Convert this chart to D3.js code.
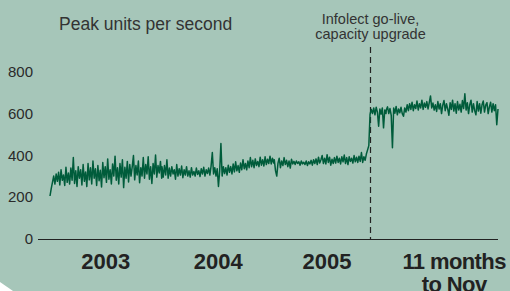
<!DOCTYPE html>
<html><head><meta charset="utf-8">
<script src="https://cdn.jsdelivr.net/npm/d3@7"></script>
<style>
html,body{margin:0;padding:0;background:#a6c6b9;}
svg{display:block;font-family:"Liberation Sans",Arial,Helvetica,sans-serif;}
</style></head>
<body>
<svg id="chart" width="510" height="291"></svg>
<script>
// ---- data (one reading every 4 days) ----
const stepDays = 4;
const values2003 = [205,240,270,300,262,310,275,318,258,330,280,305,255,342,270,315,262,338,280,388,265,325,250,345,290,330,258,355,275,320,250,360,282,340,262,372,290,335,255,350,278,328,248,365,292,345,270,382,285,330,262,358,300,395,280,340,262,360,295,378,245,342,290,370,272,355,300,345,398,282,350,305,372,268,340,300,388,290,355,310,392,285,345,265,360,310,400,295,350,315,370,290];
const values2004 = [345,295,350,305,378,290,338,300,345,310,330,285,355,300,335,305,348,292,330,305,345,300,325,295,340,305,322,300,338,308,325,298,335,310,342,300,330,312,338,305,348,412,310,340,300,335,250,325,455,300,345,312,340,305,352,318,345,310,358,320,368,325,350,318,362,330,378,335,360,330,372,340,388,345,375,340,382,350,370,345,390,352,378,348,392,355,380,360,395,358,385,362];
const values2005 = [378,325,300,362,385,340,372,350,388,355,375,345,372,338,380,358,370,355,372,360,368,352,372,358,366,355,372,350,368,358,375,352,378,360,382,355,390,362,378,398,360,385,358,402,365,390,352,380,360,388,362,395,365,385,358,392,368,400,360,388,355,392,370,385,362,398,368,390,365,395,370,412,365,392,375,405,425,445,595,618,598,625,592,628,605,538,620,595,625,530,615,598];
const values2006 = [615,630,598,622,590,435,625,600,632,592,620,602,628,598,585,625,605,640,612,645,618,652,612,640,622,658,615,645,625,662,618,648,628,655,620,650,682,625,648,615,640,608,655,620,645,598,638,660,612,645,620,590,650,618,662,610,645,600,655,615,642,605,660,622,692,615,650,598,640,662,605,645,612,592,655,610,645,600,640,658,605,638,650,598,630,652,605,645,612,640,545,620];
const seriesByYear = [[2003, values2003],[2004, values2004],[2005, values2005],[2006, values2006]];
const yTicks = [0,200,400,600,800];
const periodLabels = [["2003"],["2004"],["2005"],["11 months","to Nov"]];
const periodCentres = ["2003-07-02","2004-07-02","2005-06-22","2006-08-10"];
const goLiveDate = "2005-11-09";
const title = "Peak units per second";
const annotation = ["Infolect go-live,","capacity upgrade"];

// ---- build ----
const parse = d3.utcParse("%Y-%m-%d");
const points = [];
seriesByYear.forEach(([yr, vals]) => {
  const start = Date.UTC(yr,0,1);
  vals.forEach((v,i) => points.push({date:new Date(start + i*stepDays*86400000), value:v}));
});

const svg = d3.select("#chart");
const x = d3.scaleUtc().domain([parse("2003-01-01"), parse("2006-12-31")]).range([50,498]);
const y = d3.scaleLinear().domain([0,800]).range([239,71.2]);

// corner triangle
svg.append("path").attr("d","M0,282L13,291L0,291Z").attr("fill","#ffffff");

// title
svg.append("text").attr("x",59).attr("y",30).attr("font-size",17.5).attr("fill","#333")
  .text(title);

// y labels
svg.append("g").selectAll("text").data(yTicks).join("text")
  .attr("x",33).attr("y",d=>y(d)).attr("dy","0.36em").attr("text-anchor","end")
  .attr("font-size",15).attr("fill","#2a2a2a").text(d=>d);

// baseline
svg.append("line").attr("x1",38).attr("x2",498).attr("y1",y(0)+0.5).attr("y2",y(0)+0.5)
  .attr("stroke","#222").attr("stroke-width",1);

// go-live dashed line
const gx = Math.round(x(parse(goLiveDate)))+0.5;
svg.append("line").attr("x1",gx).attr("x2",gx).attr("y1",47).attr("y2",y(0))
  .attr("stroke","#222").attr("stroke-width",1.2).attr("stroke-dasharray","6,4");

// annotation
svg.append("g").selectAll("text").data(annotation).join("text")
  .attr("x",gx).attr("y",(d,i)=>24+i*15).attr("text-anchor","middle")
  .attr("font-size",14.5).attr("fill","#333").text(d=>d);

// series line
svg.append("path").datum(points)
  .attr("d", d3.line().x(d=>x(d.date)).y(d=>y(d.value)))
  .attr("fill","none").attr("stroke","#005c3b").attr("stroke-width",1.5)
  .attr("stroke-linejoin","round");

// period labels
const pl = svg.append("g").selectAll("text").data(periodLabels).join("text")
  .attr("x",(d,i)=>x(parse(periodCentres[i]))).attr("y",269)
  .attr("text-anchor","middle").attr("font-size",22).attr("font-weight","bold").attr("fill","#222")
  .attr("letter-spacing",d=>d.length>1?"-0.6px":null);
pl.selectAll("tspan").data(d=>d).join("tspan")
  .attr("x",function(){return this.parentNode.getAttribute("x");})
  .attr("dy",(d,i)=>i?23:0).text(d=>d);
</script>
</body></html>
